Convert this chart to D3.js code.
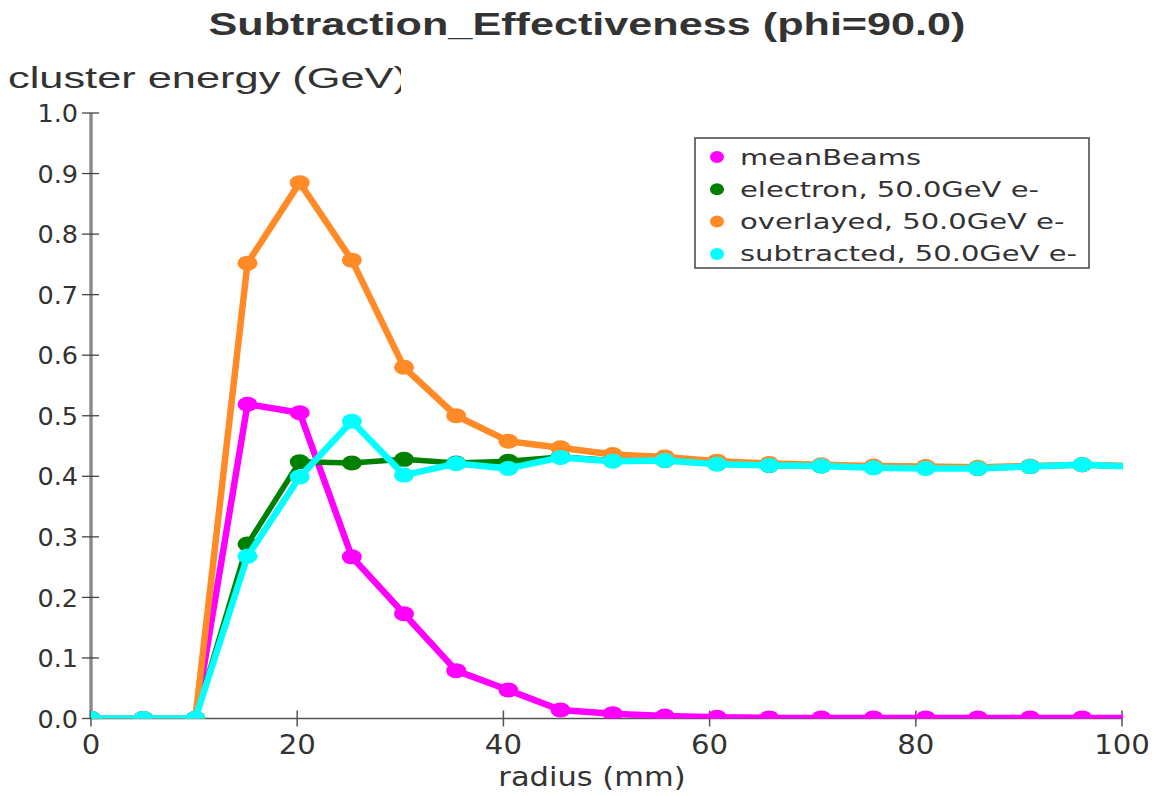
<!DOCTYPE html>
<html lang="en">
<head>
  <meta charset="UTF-8">
  <title>Subtraction_Effectiveness (phi=90.0)</title>
  <script src="https://d3js.org/d3.v7.min.js"></script>
  <style>
    body {
      margin: 0;
      background: #fff;
    }
    svg {
      display: block;
    }
    .tick-label {
      font-family: "DejaVu Sans", Verdana, sans-serif;
      fill: #333;
    }
  </style>
</head>
<body>

<svg width="1164" height="796"></svg>

<script>
  // radius bins (mm)
  const radius = [0, 5.06, 10.12, 15.18, 20.24, 25.3, 30.36, 35.42, 40.48, 45.54, 50.6,
    55.66, 60.72, 65.78, 70.84, 75.9, 80.96, 86.02, 91.08, 96.14, 101.2];

  // cluster energy (GeV) per series
  const meanBeams = [0, 0, 0, 0.519, 0.505, 0.267, 0.173, 0.079, 0.047, 0.014, 0.008,
    0.004, 0.002, 0.001, 0.001, 0.001, 0.001, 0.001, 0.001, 0.001, 0.001];
  const electron = [0, 0, 0, 0.288, 0.424, 0.422, 0.428, 0.422, 0.425, 0.432, 0.426,
    0.426, 0.421, 0.418, 0.417, 0.415, 0.414, 0.413, 0.416, 0.419, 0.416];
  const overlayed = [0, 0, 0, 0.752, 0.885, 0.757, 0.580, 0.500, 0.458, 0.447, 0.436,
    0.432, 0.425, 0.421, 0.419, 0.417, 0.416, 0.415, 0.417, 0.419, 0.417];
  const subtracted = [0, 0, 0, 0.268, 0.399, 0.491, 0.402, 0.421, 0.413, 0.431, 0.425,
    0.426, 0.420, 0.418, 0.417, 0.414, 0.413, 0.413, 0.416, 0.419, 0.416];

  const seriesNames = ["meanBeams", "electron, 50.0GeV e-", "overlayed, 50.0GeV e-", "subtracted, 50.0GeV e-"];
  const seriesValues = [meanBeams, electron, overlayed, subtracted];
  const seriesColors = ["#ff00ff", "#008000", "#ff8a26", "#00ffff"];

  const xTicks = [0, 20, 40, 60, 80, 100];
  const yTicks = [0, 0.1, 0.2, 0.3, 0.4, 0.5, 0.6, 0.7, 0.8, 0.9, 1.0];

  const svg = d3.select("svg");

  const x = d3.scaleLinear().domain([0, 100]).range([91, 1122]);
  const y = d3.scaleLinear().domain([0, 1]).range([718.5, 113]);

  // the source picture is stretched sideways, so widen glyphs a bit
  function stretch(sel, k) {
    sel.each(function() {
      const w = this.getComputedTextLength();
      d3.select(this)
          .attr("textLength", w * k)
          .attr("lengthAdjust", "spacingAndGlyphs");
    });
  }

  // title + axis labels
  svg.append("text")
      .attr("x", 587).attr("y", 35)
      .attr("text-anchor", "middle")
      .attr("font-family", "'Liberation Sans', Arial, sans-serif")
      .attr("font-weight", "bold")
      .attr("font-size", 31)
      .attr("fill", "#333")
      .attr("textLength", 757)
      .attr("lengthAdjust", "spacingAndGlyphs")
      .text("Subtraction_Effectiveness (phi=90.0)");

  svg.append("clipPath").attr("id", "ylab-clip")
      .append("rect").attr("x", 0).attr("y", 50).attr("width", 401).attr("height", 60);

  svg.append("text")
      .attr("x", 8).attr("y", 88)
      .attr("clip-path", "url(#ylab-clip)")
      .attr("font-family", "'Liberation Sans', Arial, sans-serif")
      .attr("font-size", 30)
      .attr("fill", "#333")
      .attr("textLength", 400)
      .attr("lengthAdjust", "spacingAndGlyphs")
      .text("cluster energy (GeV)");

  svg.append("text")
      .attr("x", 592).attr("y", 786)
      .attr("text-anchor", "middle")
      .attr("font-family", "'DejaVu Sans', Verdana, sans-serif")
      .attr("font-size", 27)
      .attr("fill", "#333")
      .text("radius (mm)")
      .call(stretch, 1.13);

  // axes
  const axes = svg.append("g");

  axes.append("line")
      .attr("x1", x(0)).attr("x2", x(100))
      .attr("y1", y(0)).attr("y2", y(0))
      .attr("stroke", "#555").attr("stroke-width", 1.5);

  axes.append("line")
      .attr("x1", x(0)).attr("x2", x(0))
      .attr("y1", y(1)).attr("y2", y(0))
      .attr("stroke", "#8c8c8c").attr("stroke-width", 3.5);

  axes.selectAll(".xtick")
      .data(xTicks)
      .join("line")
      .attr("x1", d => x(d)).attr("x2", d => x(d))
      .attr("y1", y(0) - 8).attr("y2", y(0) + 8)
      .attr("stroke", "#555").attr("stroke-width", 1.5);

  axes.selectAll(".xlabel")
      .data(xTicks)
      .join("text")
      .attr("class", "tick-label")
      .attr("font-size", 27)
      .attr("x", d => x(d)).attr("y", 754)
      .attr("text-anchor", "middle")
      .text(d => d)
      .call(stretch, 1.08);

  axes.selectAll(".ytick")
      .data(yTicks)
      .join("line")
      .attr("x1", x(0) - 9).attr("x2", x(0) + 8)
      .attr("y1", d => y(d)).attr("y2", d => y(d))
      .attr("stroke", "#444").attr("stroke-width", 1.3);

  axes.selectAll(".ylabel")
      .data(yTicks)
      .join("text")
      .attr("class", "tick-label")
      .attr("font-size", 25.5)
      .attr("x", 78).attr("y", d => y(d))
      .attr("dy", "0.36em")
      .attr("text-anchor", "end")
      .text(d => d3.format(".1f")(d));

  // plot area
  svg.append("clipPath").attr("id", "plot-clip")
      .append("rect")
      .attr("x", x(0)).attr("y", y(1) - 10)
      .attr("width", x(100) - x(0) + 1)
      .attr("height", y(0) - y(1) + 10);

  const plot = svg.append("g").attr("clip-path", "url(#plot-clip)");

  const line = d3.line()
      .x((d, i) => x(radius[i]))
      .y(d => y(d));

  seriesValues.forEach((vals, s) => {
    const g = plot.append("g");
    g.append("path")
        .datum(vals)
        .attr("fill", "none")
        .attr("stroke", seriesColors[s])
        .attr("stroke-width", s === 1 ? 5.5 : 6.5)
        .attr("stroke-linejoin", "round")
        .attr("d", line);
    g.selectAll("ellipse")
        .data(vals)
        .join("ellipse")
        .attr("cx", (d, i) => x(radius[i]))
        .attr("cy", d => y(d))
        .attr("rx", 10)
        .attr("ry", 7.5)
        .attr("fill", seriesColors[s]);
  });

  // legend
  const legend = svg.append("g").attr("transform", "translate(695,138)");
  legend.append("rect")
      .attr("width", 394).attr("height", 130)
      .attr("fill", "#fff")
      .attr("stroke", "#444").attr("stroke-width", 1.5);

  const item = legend.selectAll(".item")
      .data(seriesNames)
      .join("g")
      .attr("transform", (d, i) => `translate(0,${19 + i * 32.3})`);

  item.append("ellipse")
      .attr("cx", 22).attr("cy", 0)
      .attr("rx", 7).attr("ry", 6)
      .attr("fill", (d, i) => seriesColors[i]);

  item.append("text")
      .attr("x", 45).attr("y", 0)
      .attr("dy", "0.36em")
      .attr("font-family", "'DejaVu Sans', Verdana, sans-serif")
      .attr("font-size", 21)
      .attr("fill", "#333")
      .text(d => d)
      .call(stretch, 1.38);
</script>
</body>
</html>
